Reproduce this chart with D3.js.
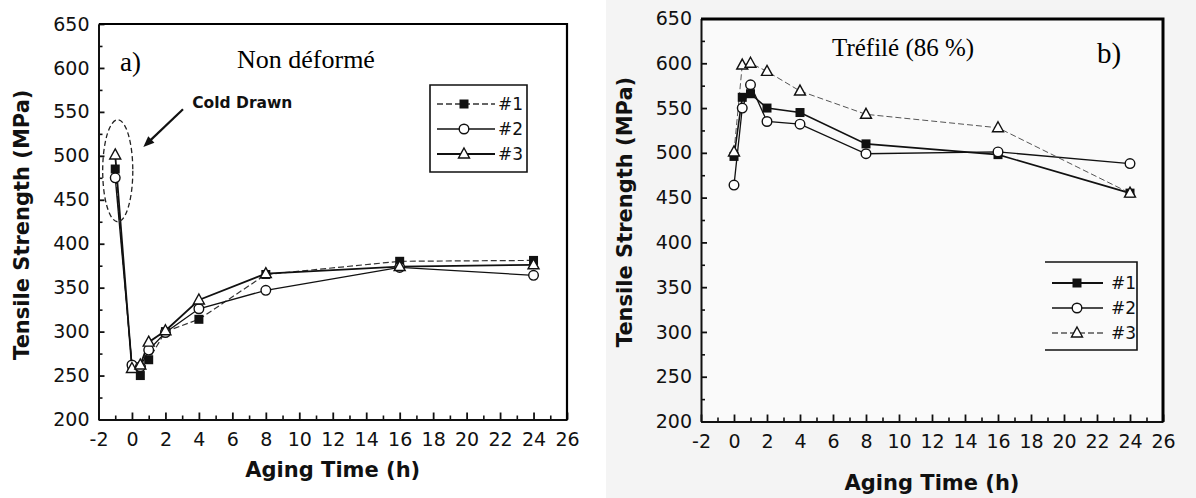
<!DOCTYPE html>
<html><head><meta charset="utf-8">
<script src="https://cdn.jsdelivr.net/npm/d3@7"></script>
<style>
html,body{margin:0;padding:0;background:#fff;}
svg{display:block;}
.tick text{font-family:"DejaVu Sans",sans-serif;font-size:19px;fill:#111;}
.axis path,.axis line{stroke:#111;}
</style></head>
<body>
<svg id="chart" width="1196" height="498"></svg>
<script>
// ---------- DATA ----------
const seriesNames = ["#1", "#2", "#3"];
const xTicks = [-2,0,2,4,6,8,10,12,14,16,18,20,22,24,26];
const yTicks = [200,250,300,350,400,450,500,550,600,650];

// Panel a) Non déformé
const timeA = [-1, 0, 0.5, 1, 2, 4, 8, 16, 24];
const a1 = [485, 260, 250, 268, 300, 314, 365, 380, 381];
const a2 = [475, 262, 260, 279, 299, 326, 347, 373, 364];
const a3 = [501, 258, 262, 288, 301, 336, 366, 374, 376];

// Panel b) Tréfilé (86 %)
const timeB = [0, 0.5, 1, 2, 4, 8, 16, 24];
const b1 = [496, 562, 566, 550, 545, 510, 498, 455];
const b2 = [464, 550, 576, 535, 532, 499, 501, 488];
const b3 = [501, 598, 600, 591, 569, 543, 528, 455];

const svg = d3.select("#chart");
const fmt = d => String(d).replace("\u2212","-");

// scanned grey background of right figure
svg.append("rect").attr("x",606).attr("y",0).attr("width",590).attr("height",498).attr("fill","#f4f4f4");

const frames = [];

function panel(cfg){
  const x = d3.scaleLinear().domain([-2,26]).range(cfg.xr);
  const y = d3.scaleLinear().domain([200,650]).range(cfg.yr);
  const g = svg.append("g");
  if(cfg.plotFill){
    g.append("rect").attr("x",cfg.xr[0]).attr("y",cfg.yr[1]).attr("width",cfg.xr[1]-cfg.xr[0]).attr("height",cfg.yr[0]-cfg.yr[1]).attr("fill",cfg.plotFill);
  }
  // minor ticks
  g.append("g").attr("class","axis").attr("transform",`translate(${cfg.xr[0]},0)`)
    .call(d3.axisLeft(y).tickValues(d3.range(225,650,50)).tickSize(-4).tickFormat(""))
    .call(s=>s.select(".domain").remove()).selectAll("line").attr("stroke-width",1.6);
  g.append("g").attr("class","axis").attr("transform",`translate(0,${cfg.yr[0]})`)
    .call(d3.axisBottom(x).tickValues(d3.range(-1,26,2)).tickSize(-4).tickFormat(""))
    .call(s=>s.select(".domain").remove()).selectAll("line").attr("stroke-width",1.6);
  // major axes
  const ya = g.append("g").attr("class","axis").attr("transform",`translate(${cfg.xr[0]},0)`)
    .call(d3.axisLeft(y).tickValues(yTicks).tickSize(-6).tickPadding(9).tickSizeOuter(0).tickFormat(fmt));
  ya.selectAll("line").attr("stroke-width",1.8);
  ya.select(".domain").attr("stroke-width",2);
  const xa = g.append("g").attr("class","axis").attr("transform",`translate(0,${cfg.yr[0]})`)
    .call(d3.axisBottom(x).tickValues(xTicks).tickSize(-7).tickPadding(13).tickSizeOuter(0).tickFormat(fmt));
  xa.selectAll("line").attr("stroke-width",1.8);
  xa.select(".domain").attr("stroke-width",2);

  // axis titles
  g.append("text").attr("transform",`translate(${cfg.ytX},${(cfg.yr[0]+cfg.yr[1])/2+cfg.ytDy}) rotate(-90)`)
    .attr("text-anchor","middle").attr("font-family","DejaVu Sans, sans-serif").attr("font-weight","bold")
    .attr("font-size",21).attr("fill","#111").text("Tensile Strength (MPa)");
  g.append("text").attr("x",(cfg.xr[0]+cfg.xr[1])/2).attr("y",cfg.xtY)
    .attr("text-anchor","middle").attr("font-family","DejaVu Sans, sans-serif").attr("font-weight","bold")
    .attr("font-size",21).attr("fill","#111").text("Aging Time (h)");

  // series
  const line = d3.line().x(d=>x(d[0])).y(d=>y(d[1]));
  cfg.series.forEach((s,i)=>{
    const pts = s.t.map((t,k)=>[t,s.v[k]]);
    g.append("path").attr("d",line(pts)).attr("fill","none").attr("stroke",s.stroke)
      .attr("stroke-width",s.sw).attr("stroke-dasharray",s.dash||null);
  });
  cfg.series.forEach((s,i)=>{
    const pts = s.t.map((t,k)=>[t,s.v[k]]);
    pts.forEach(p=>marker(g, i, x(p[0]), y(p[1])));
  });

  // legend
  const L = cfg.legend;
  g.append("path").attr("d",L.open?`M${L.x0},${L.y0}H${L.x1}V${L.y1}H${L.x0}`:`M${L.x0},${L.y0}H${L.x1}V${L.y1}H${L.x0}Z`)
    .attr("fill", L.open?"none":"#fff").attr("stroke","#111").attr("stroke-width",1.6);
  cfg.series.forEach((s,i)=>{
    const yy = L.ys[i];
    g.append("line").attr("x1",L.lx0).attr("x2",L.lx1).attr("y1",yy).attr("y2",yy)
      .attr("stroke",s.stroke).attr("stroke-width",s.sw+0.3).attr("stroke-dasharray",s.dash||null);
    marker(g,i,L.mx,yy);
    g.append("text").attr("x",L.tx).attr("y",yy+6).attr("font-family","DejaVu Sans, sans-serif")
      .attr("font-size",17).attr("fill","#111").text(seriesNames[i]);
  });
  frames.push({x0:x(-2), x1:x(26), y0:y(650), y1:y(200), w:cfg.frameW});
  return {x,y,g};
}

function marker(g,i,cx,cy){
  if(i===0){
    g.append("rect").attr("x",cx-4.5).attr("y",cy-4.5).attr("width",9).attr("height",9).attr("fill","#111");
  } else if(i===1){
    g.append("circle").attr("cx",cx).attr("cy",cy).attr("r",4.8).attr("fill","#fff").attr("stroke","#111").attr("stroke-width",1.4);
  } else {
    g.append("path").attr("d",`M${cx},${cy-6}L${cx+5.5},${cy+4}L${cx-5.5},${cy+4}Z`).attr("fill","#fff").attr("stroke","#111").attr("stroke-width",1.4);
  }
}

// ---------- Panel a ----------
const A = panel({
  xr:[98.5,567], yr:[419.5,24], ytX:29, ytDy:3, xtY:477, frameW:2.2,
  series:[
    {t:timeA, v:a1, stroke:"#333", sw:1.2, dash:"6,3"},
    {t:timeA, v:a2, stroke:"#111", sw:1.3},
    {t:timeA, v:a3, stroke:"#111", sw:1.8}
  ],
  legend:{x0:430,x1:527,y0:85,y1:172,ys:[104,129,154],lx0:437,lx1:495,mx:464,tx:498}
});
// annotations panel a
A.g.append("ellipse").attr("cx",A.x(-0.85)).attr("cy",A.y(483))
  .attr("rx",A.x(0.05)-A.x(-0.85)).attr("ry",A.y(425)-A.y(483))
  .attr("fill","none").attr("stroke","#222").attr("stroke-width",1.3).attr("stroke-dasharray","5,3");
{
  const x1=A.x(3.05), y1=A.y(553), x2=A.x(0.68), y2=A.y(510);
  const ang=Math.atan2(y2-y1,x2-x1), L=11, W=4.5;
  A.g.append("line").attr("x1",x1).attr("y1",y1).attr("x2",x2-Math.cos(ang)*6).attr("y2",y2-Math.sin(ang)*6)
    .attr("stroke","#111").attr("stroke-width",2.2);
  const bx=x2-Math.cos(ang)*L, by=y2-Math.sin(ang)*L;
  A.g.append("path").attr("d",`M${x2},${y2}L${bx-Math.sin(ang)*W},${by+Math.cos(ang)*W}L${bx+Math.sin(ang)*W},${by-Math.cos(ang)*W}Z`).attr("fill","#111");
}
A.g.append("text").attr("x",A.x(3.6)).attr("y",A.y(554)).attr("font-family","DejaVu Sans, sans-serif")
  .attr("font-weight","bold").attr("font-size",15.5).attr("fill","#111").text("Cold Drawn");
A.g.append("text").attr("x",120).attr("y",71).attr("font-family","Liberation Serif, serif").attr("font-size",27).attr("fill","#000").text("a)");
A.g.append("text").attr("x",237).attr("y",68).attr("font-family","Liberation Serif, serif").attr("font-size",26).attr("fill","#000").text("Non déformé");

// ---------- Panel b ----------
const B = panel({
  xr:[701,1163], yr:[421.5,18.5], ytX:632, ytDy:-8, xtY:490, plotFill:"#fafafa", frameW:3,
  series:[
    {t:timeB, v:b1, stroke:"#111", sw:1.6},
    {t:timeB, v:b2, stroke:"#111", sw:1.3},
    {t:timeB, v:b3, stroke:"#555", sw:1.0, dash:"6,3"}
  ],
  legend:{x0:1045,x1:1137,y0:262,y1:350,ys:[283,308,333],lx0:1052,lx1:1103,mx:1077,tx:1111,open:true}
});
B.g.append("text").attr("x",832).attr("y",56).attr("font-family","Liberation Serif, serif").attr("font-size",25).attr("fill","#000").text("Tréfilé (86 %)");
B.g.append("text").attr("x",1097).attr("y",63).attr("font-family","Liberation Serif, serif").attr("font-size",29).attr("fill","#000").text("b)");

// plot frames (top and right borders), drawn last on top of everything
svg.append("g").selectAll("path.frame").data(frames).join("path").attr("class","frame")
  .attr("d",f=>`M${Math.round(f.x0)},${Math.round(f.y0)}H${Math.round(f.x1)}V${Math.round(f.y1)}`)
  .attr("fill","none").attr("stroke","#000").attr("stroke-width",f=>f.w);
</script>
</body></html>
